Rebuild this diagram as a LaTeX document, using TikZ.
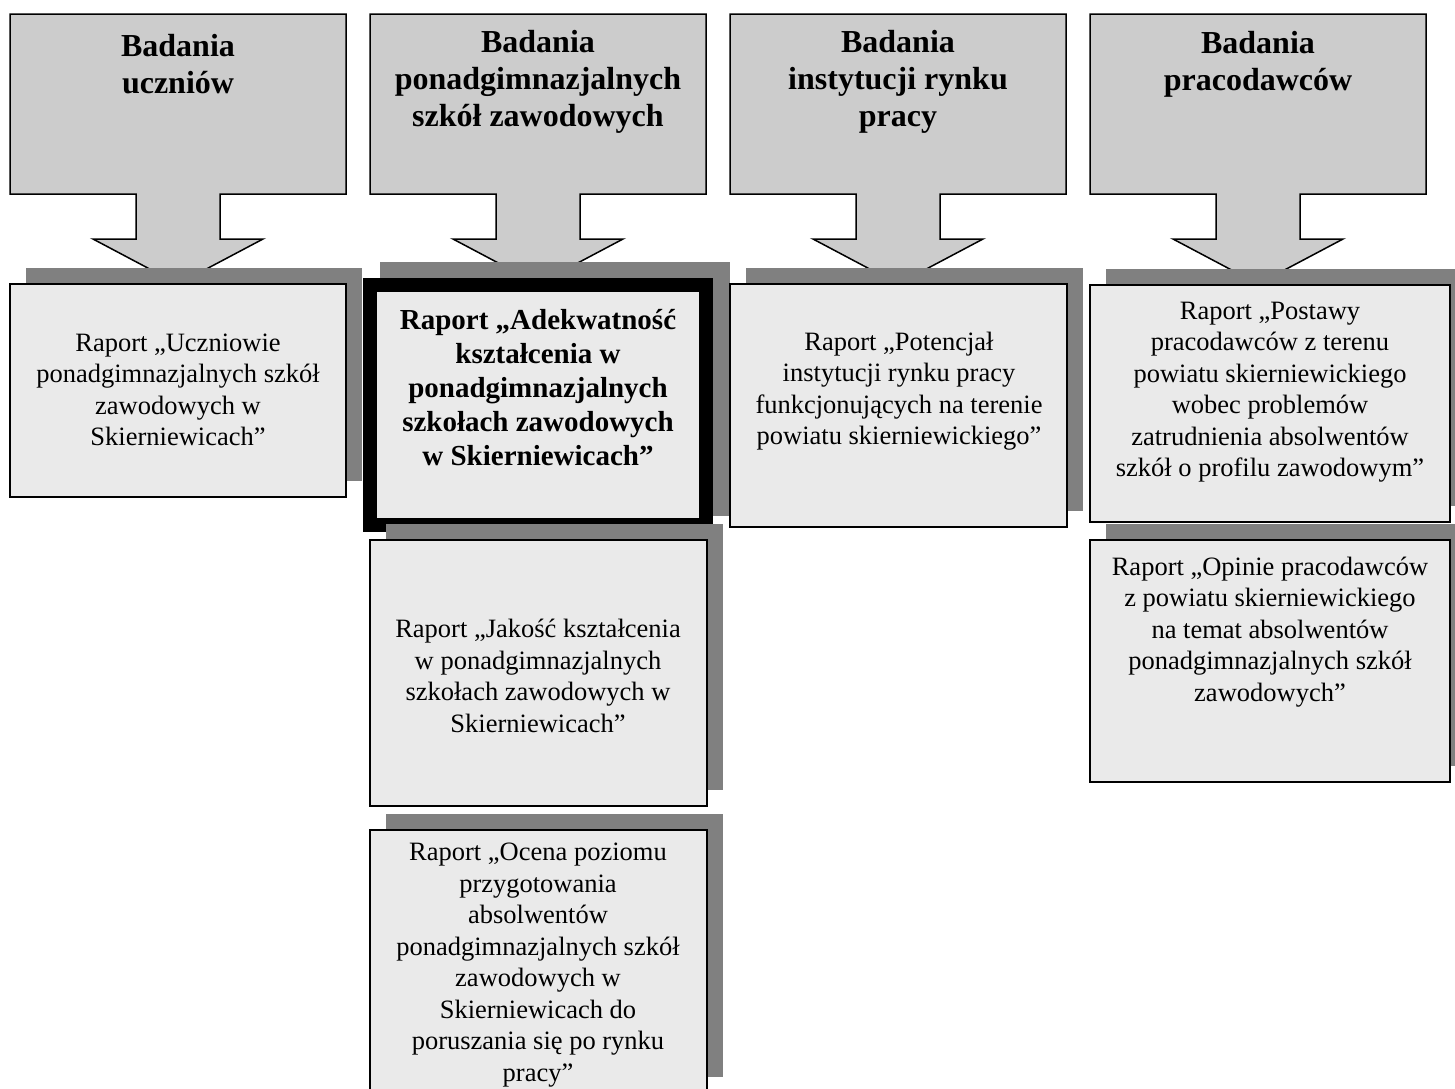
\documentclass[tikz,border=0pt]{standalone}
\usepackage{fontspec}
\setmainfont{Liberation Serif}
\definecolor{callfill}{RGB}{204,204,204}
\definecolor{boxfill}{RGB}{234,234,234}
\definecolor{shadowgray}{RGB}{128,128,128}
\tikzset{
  callout/.style={draw=black, line width=1.5pt, fill=callfill, line join=miter},
  boxshape/.style={draw=black, line width=1.5pt, fill=boxfill},
  thickbox/.style={draw=black, line width=14pt, fill=boxfill},
  shade/.style={fill=shadowgray, draw=none},
  headtext/.style={align=center, inner sep=0pt, font=\fontsize{32}{37}\selectfont\bfseries},
  bodytext/.style={align=center, inner sep=0pt, font=\fontsize{26.5}{31.5}\selectfont},
  boldtext/.style={align=center, inner sep=0pt, font=\fontsize{29}{34}\selectfont\bfseries},
}
\newcommand{\mycallout}[1]{%
  \draw[callout] (#1-168,14) -- (#1+168,14) -- (#1+168,194) -- (#1+42,194) -- (#1+42,239)
    -- (#1+85,239) -- (#1,284) -- (#1-85,239) -- (#1-42,239) -- (#1-42,194) -- (#1-168,194) -- cycle;}
\begin{document}
\begin{tikzpicture}[x=1pt,y=-1pt]
\useasboundingbox (0,0) rectangle (1455,1088);
\clip (0,0) rectangle (1455,1088);
\fill[white] (0,0) rectangle (1455,1088);
% callouts
\mycallout{178}
\mycallout{538}
\mycallout{898}
\mycallout{1258}
\node[headtext] (h1) at (178,64) {Badania\\uczniów};
\node[headtext] (h2) at (538,82) {Badania\\ponadgimnazjalnych\\szkół zawodowych};
\node[headtext] (h3) at (898,82) {Badania\\instytucji rynku\\pracy};
\node[headtext] (h4) at (1258,64) {Badania\\pracodawców};
% box 1
\fill[shade] (26,268) rectangle (362,481);
\draw[boxshape] (10,284) rectangle (346,497);
\node[bodytext] (b1) at (178,390) {Raport „Uczniowie\\ponadgimnazjalnych szkół\\zawodowych w\\Skierniewicach”};
% box 2
\fill[shade] (380,262) rectangle (730,516);
\draw[thickbox] (370,285) rectangle (706,525);
\node[boldtext] (b2) at (538,388) {Raport „Adekwatność\\kształcenia w\\ponadgimnazjalnych\\szkołach zawodowych\\w Skierniewicach”};
% box 3
\fill[shade] (746,268) rectangle (1083,511);
\draw[boxshape] (730,284) rectangle (1067,527);
\node[bodytext] (b3) at (899,391) {Raport „Potencjał\\instytucji rynku pracy\\funkcjonujących na terenie\\powiatu skierniewickiego”};
% box 4
\fill[shade] (1106,269) rectangle (1466,506);
\draw[boxshape] (1090,285) rectangle (1450,522);
\node[bodytext] (b4) at (1270,392) {Raport „Postawy\\pracodawców z terenu\\powiatu skierniewickiego\\wobec problemów\\zatrudnienia absolwentów\\szkół o profilu zawodowym”};
% box 6
\fill[shade] (386,524) rectangle (723,790);
\draw[boxshape] (370,540) rectangle (707,806);
\node[bodytext] (b6) at (538,676) {Raport „Jakość kształcenia\\w ponadgimnazjalnych\\szkołach zawodowych w\\Skierniewicach”};
% box 7
\fill[shade] (386,814) rectangle (723,1077);
\draw[boxshape] (370,830) rectangle (707,1093);
\node[bodytext] (b7) at (538,965) {Raport „Ocena poziomu\\przygotowania\\absolwentów\\ponadgimnazjalnych szkół\\zawodowych w\\Skierniewicach do\\poruszania się po rynku\\pracy”};
% box 5
\fill[shade] (1106,524) rectangle (1466,766);
\draw[boxshape] (1090,540) rectangle (1450,782);
\node[bodytext] (b5) at (1270,632) {Raport „Opinie pracodawców\\z powiatu skierniewickiego\\na temat absolwentów\\ponadgimnazjalnych szkół\\zawodowych”};
\end{tikzpicture}
\end{document}
